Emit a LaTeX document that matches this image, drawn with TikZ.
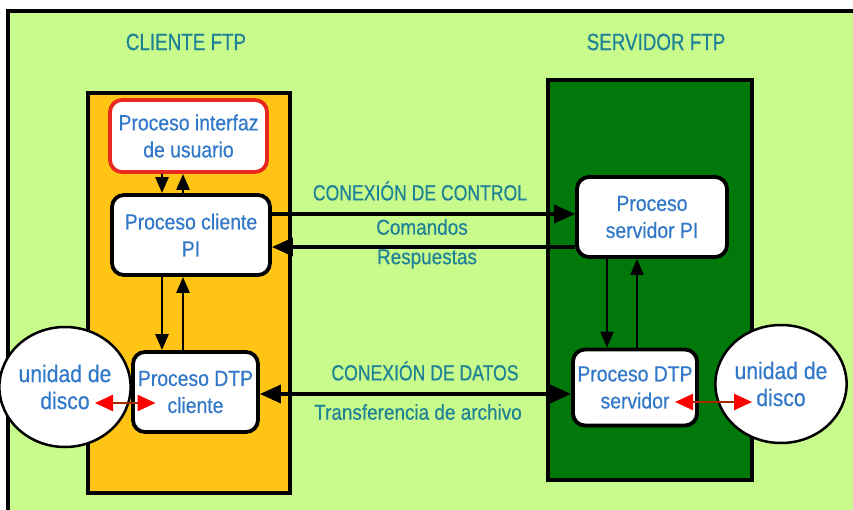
\documentclass[tikz,border=0pt]{standalone}
\usepackage{fontspec}
\setmainfont{Liberation Sans}[FakeStretch=0.88,FakeBold=0.5]
\newfontfamily\capsfont{Liberation Sans}[FakeStretch=0.80,FakeBold=0.5]
\usetikzlibrary{arrows.meta,shapes.geometric,calc}
\definecolor{bggreen}{RGB}{200,250,140}
\definecolor{cliorange}{RGB}{255,196,20}
\definecolor{srvgreen}{RGB}{0,120,10}
\definecolor{tealtxt}{RGB}{30,130,150}
\definecolor{bluetxt}{RGB}{50,120,200}
\definecolor{redborder}{RGB}{230,40,30}
\definecolor{diskline}{RGB}{170,40,0}
\tikzset{
  container/.style={draw=black, line width=4pt, inner sep=0pt},
  procbox/.style={draw=black, fill=white, line width=3.8pt, rounded corners=12pt,
    align=center, text=bluetxt, inner sep=0pt,
    font=\fontsize{22}{27}\selectfont},
  diskbox/.style={ellipse, draw=black, fill=white, line width=2.5pt, align=center,
    text=bluetxt, inner sep=0pt, font=\fontsize{24}{27}\selectfont},
  title/.style={text=tealtxt, font=\capsfont\fontsize{23.5}{27}\selectfont, inner sep=0pt},
  capslabel/.style={text=tealtxt, font=\capsfont\fontsize{22}{27}\selectfont, inner sep=0pt},
  conlabel/.style={text=tealtxt, font=\fontsize{21.5}{27}\selectfont, inner sep=0pt},
  varr/.style={draw=black, line width=2.6pt, -{Triangle[length=16pt,width=13pt]}},
  harr/.style={draw=black, line width=3.5pt, -{Triangle[length=21pt,width=18pt]}},
  dblarr/.style={draw=black, line width=3.5pt, {Triangle[length=21pt,width=18pt]}-{Triangle[length=21pt,width=18pt]}},
  diskarr/.style={draw=diskline, line width=2.5pt,
    {Triangle[length=18pt,width=16pt,color=red]}-{Triangle[length=18pt,width=16pt,color=red]}},
}
\begin{document}
\begin{tikzpicture}[x=1pt,y=-1pt]
\useasboundingbox (0,0) rectangle (853,510);
\fill[white] (0,0) rectangle (853,510);
\fill[bggreen] (8,11) rectangle (853,510);
\draw[black, line width=3.5pt] (8,510) -- (8,11) -- (853,11);

% containers
\node[container, fill=cliorange, minimum width=202pt, minimum height=400pt] (client) at (189,293) {};
\node[container, fill=srvgreen, minimum width=204pt, minimum height=400pt] (server) at (650,280) {};

% titles
\node[title] (ctitle) at (186,42) {CLIENTE FTP};
\node[title] (stitle) at (656,42) {SERVIDOR FTP};

% client processes
\node[procbox, draw=redborder, minimum width=157pt, minimum height=72pt] (ui) at (188.5,136) {Proceso interfaz\\de usuario};
\node[procbox, minimum width=158pt, minimum height=80pt] (cpi) at (191,235) {Proceso cliente\\PI};
\node[procbox, minimum width=125pt, minimum height=80pt] (cdtp) at (195.5,392) {Proceso DTP\\cliente};
\node[diskbox, minimum width=100pt, minimum height=120pt] (cdisk) at (65,387) {unidad de\\disco};

% server processes
\node[procbox, minimum width=150pt, minimum height=80pt] (spi) at (652,217) {Proceso\\servidor PI};
\node[procbox, minimum width=124pt, minimum height=76pt] (sdtp) at (635,387.5) {Proceso DTP\\servidor};
\node[diskbox, minimum width=102pt, minimum height=118pt] (sdisk) at (781,384) {unidad de\\disco};

% connection labels
\node[capslabel] (lcc) at (420,191) {CONEXIÓN DE CONTROL};
\node[conlabel] (lcom) at (422,227) {Comandos};
\node[conlabel] (lres) at (427,259) {Respuestas};
\node[capslabel] (lcd) at (425,371) {CONEXIÓN DE DATOS};
\node[conlabel] (ltr) at (418,412) {Transferencia de archivo};

% client vertical arrows
\draw[varr] ([xshift=-26.5pt]ui.south) -- ([xshift=-26.5pt]ui.south |- cpi.north);
\draw[varr] ([xshift=-5.5pt]ui.south |- cpi.north) -- ([xshift=-5.5pt]ui.south);
\draw[varr] ([xshift=-29pt]cpi.south) -- ([xshift=-29pt]cpi.south |- cdtp.north);
\draw[varr] ([xshift=-8pt]cpi.south |- cdtp.north) -- ([xshift=-8pt]cpi.south);

% server vertical arrows
\draw[varr] ([xshift=-45pt]spi.south) -- ([xshift=-45pt]spi.south |- sdtp.north);
\draw[varr] ([xshift=-15pt]spi.south |- sdtp.north) -- ([xshift=-15pt]spi.south);

% control connection
\draw[harr] ([yshift=21pt]cpi.east) -- ([yshift=21pt]cpi.east -| spi.west);
\draw[harr] ([yshift=-12pt]cpi.east -| spi.west) -- ([yshift=-12pt]cpi.east);

% data connection
\draw[dblarr] ([yshift=-2pt]cdtp.east) -- ([yshift=-2pt]cdtp.east -| sdtp.west);

% disk arrows
\draw[diskarr] ([xshift=30pt,yshift=-16pt]cdisk.center) -- ([xshift=-40pt,yshift=-11pt]cdtp.center);
\draw[diskarr] ([xshift=40pt,yshift=-14.5pt]sdtp.center) -- ([xshift=-29pt,yshift=-18pt]sdisk.center);
\end{tikzpicture}
\end{document}
